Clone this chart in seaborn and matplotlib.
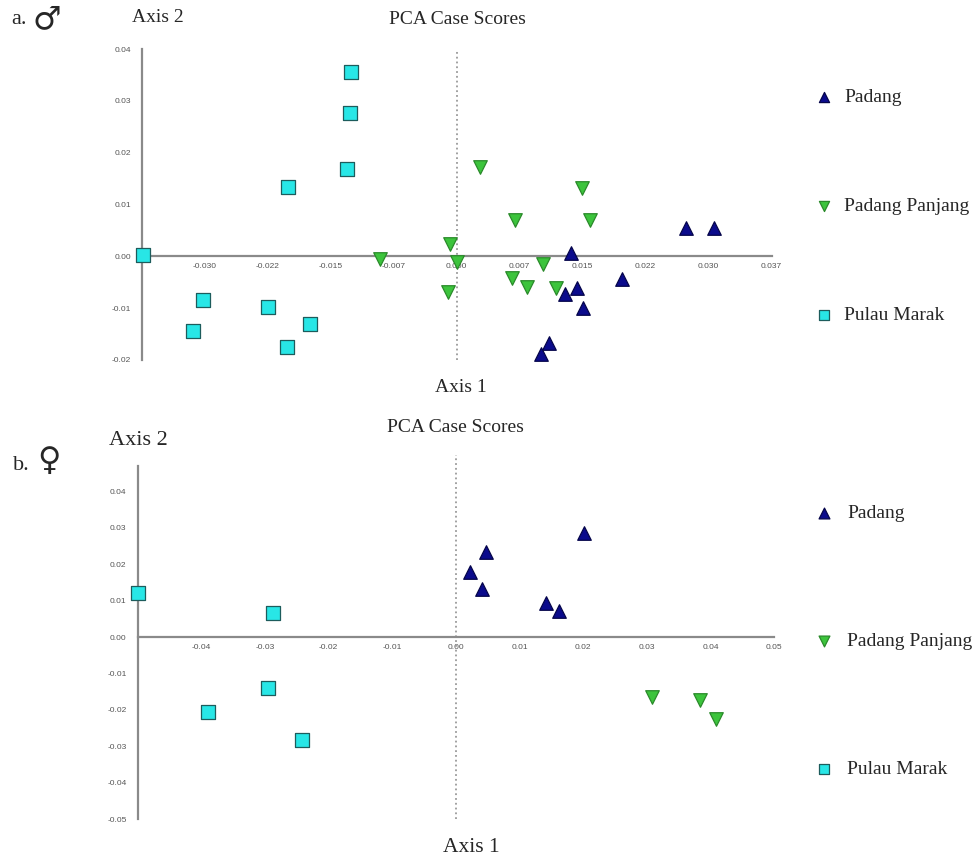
import numpy as np
import pandas as pd
import matplotlib
matplotlib.use("Agg")
import matplotlib.pyplot as plt
import seaborn as sns

# --- data ---
groups = ["Padang", "Padang Panjang", "Pulau Marak"]

# a. male
male_padang_x = [0.0134, 0.0269, 0.0302, 0.0194, 0.0141, 0.0127, 0.0148, 0.0108, 0.0099]
male_padang_y = [0.0006, 0.0054, 0.0055, -0.0043, -0.0061, -0.0072, -0.0100, -0.0167, -0.0189]
male_panjang_x = [0.0027, 0.0147, 0.0068, 0.0157, 0.0101, 0.0065, 0.0083, 0.0117, -0.0090, -0.0008, 0.0000, -0.0010]
male_panjang_y = [0.0172, 0.0131, 0.0070, 0.0070, -0.0015, -0.0041, -0.0060, -0.0062, -0.0006, 0.0023, -0.0010, -0.0068]
male_marak_x = [-0.0124, -0.0126, -0.0129, -0.0198, -0.0369, -0.0298, -0.0310, -0.0222, -0.0173, -0.0200]
male_marak_y = [0.0355, 0.0277, 0.0169, 0.0133, 0.0003, -0.0085, -0.0145, -0.0098, -0.0130, -0.0174]

# b. female
female_padang_x = [0.0201, 0.0047, 0.0022, 0.0041, 0.0142, 0.0162]
female_padang_y = [0.0285, 0.0234, 0.0179, 0.0131, 0.0093, 0.0071]
female_panjang_x = [0.0308, 0.0383, 0.0408]
female_panjang_y = [-0.0164, -0.0173, -0.0225]
female_marak_x = [-0.0500, -0.0287, -0.0295, -0.0389, -0.0242]
female_marak_y = [0.0122, 0.0065, -0.0139, -0.0207, -0.0283]

male_xticks = [-0.0296, -0.0222, -0.0148, -0.0074, 0.0, 0.0074, 0.0148, 0.0222, 0.0296, 0.037]
male_xticklabels = ["-0.030", "-0.022", "-0.015", "-0.007", "0.000", "0.007", "0.015", "0.022", "0.030", "0.037"]
male_yticks = [-0.02, -0.01, 0.0, 0.01, 0.02, 0.03, 0.04]
male_yticklabels = ["-0.02", "-0.01", "0.00", "0.01", "0.02", "0.03", "0.04"]

female_xticks = [-0.04, -0.03, -0.02, -0.01, 0.0, 0.01, 0.02, 0.03, 0.04, 0.05]
female_xticklabels = ["-0.04", "-0.03", "-0.02", "-0.01", "0.00", "0.01", "0.02", "0.03", "0.04", "0.05"]
female_yticks = [-0.05, -0.04, -0.03, -0.02, -0.01, 0.0, 0.01, 0.02, 0.03, 0.04]
female_yticklabels = ["-0.05", "-0.04", "-0.03", "-0.02", "-0.01", "0.00", "0.01", "0.02", "0.03", "0.04"]

fills = {"Padang": "#0b0b8c", "Padang Panjang": "#3cc43c", "Pulau Marak": "#28e6e6"}
edges = {"Padang": "#05054a", "Padang Panjang": "#2a8a2a", "Pulau Marak": "#1d5c5c"}
markers = {"Padang": "^", "Padang Panjang": "v", "Pulau Marak": "s"}


def make_frame(pad_x, pad_y, pan_x, pan_y, mar_x, mar_y):
    parts = []
    for name, xs, ys in zip(groups, [pad_x, pan_x, mar_x], [pad_y, pan_y, mar_y]):
        parts.append(pd.DataFrame({"x": xs, "y": ys, "site": name}))
    return pd.concat(parts, ignore_index=True)


male_df = make_frame(male_padang_x, male_padang_y, male_panjang_x, male_panjang_y,
                     male_marak_x, male_marak_y)
female_df = make_frame(female_padang_x, female_padang_y, female_panjang_x, female_panjang_y,
                       female_marak_x, female_marak_y)

sns.set_style("white")
plt.rcParams["font.family"] = ["Liberation Serif", "DejaVu Sans"]

fig = plt.figure(figsize=(9.76, 8.59), dpi=100)
ax_top = fig.add_axes([142 / 976, 1 - 360 / 859, 629.5 / 976, 311 / 859])
ax_bot = fig.add_axes([137.7 / 976, 1 - 819 / 859, 636.6 / 976, 364 / 859])

spine_col = "#8a8a8a"


def draw_panel(ax, df, xlim, ylim, xticks, xlabels, yticks, ylabels, ybounds, vline_span):
    for name in groups:
        sub = df[df["site"] == name]
        sns.scatterplot(data=sub, x="x", y="y", ax=ax, marker=markers[name],
                        color=fills[name], edgecolor=edges[name], linewidth=0.9,
                        s=95, label=name, clip_on=False, zorder=4, legend=True)
    ax.set_xlim(*xlim)
    ax.set_ylim(*ylim)
    ax.axvline(0, ymin=(vline_span[0] - ylim[0]) / (ylim[1] - ylim[0]),
               ymax=(vline_span[1] - ylim[0]) / (ylim[1] - ylim[0]),
               color="#9a9a9a", linestyle=":", linewidth=1.3, zorder=1)
    for side in ["top", "right"]:
        ax.spines[side].set_visible(False)
    ax.spines["bottom"].set_position(("data", 0))
    for side in ["bottom", "left"]:
        ax.spines[side].set_color(spine_col)
        ax.spines[side].set_linewidth(1.6)
    ax.spines["left"].set_bounds(*ybounds)
    ax.set_xticks(xticks)
    ax.set_xticklabels(xlabels)
    ax.set_yticks(yticks)
    ax.set_yticklabels(ylabels)
    ax.tick_params(axis="both", direction="in", length=6, width=1.3, color=spine_col,
                   labelsize=6, labelcolor="#555555")
    ax.tick_params(axis="x", pad=5)
    ax.tick_params(axis="y", pad=8)
    for lab in ax.get_xticklabels() + ax.get_yticklabels():
        lab.set_family("Liberation Sans")
    ax.set_xlabel("")
    ax.set_ylabel("")
    ax.grid(False)
    ax.patch.set_alpha(0)


draw_panel(ax_top, male_df, (-0.037, 0.037), (-0.02, 0.04), male_xticks, male_xticklabels,
           male_yticks, male_yticklabels, (-0.02, 0.04), (-0.02, 0.04))
draw_panel(ax_bot, female_df, (-0.05, 0.05), (-0.05, 0.05), female_xticks, female_xticklabels,
           female_yticks, female_yticklabels, (-0.05, 0.047), (-0.05, 0.05))

# legends on the right
ax_top.legend(loc="upper left", bbox_to_anchor=(814 / 976, 1 - 88 / 859),
              bbox_transform=fig.transFigure, frameon=False, fontsize=14,
              labelspacing=4.72, handlelength=1.0, handletextpad=0.55,
              borderpad=0, borderaxespad=0, markerscale=0.75)
ax_bot.legend(loc="upper left", bbox_to_anchor=(814 / 976, 1 - 504 / 859),
              bbox_transform=fig.transFigure, frameon=False, fontsize=14,
              labelspacing=5.7, handlelength=1.0, handletextpad=0.7,
              borderpad=0, borderaxespad=0, markerscale=0.8)

# titles and axis names
def ftext(x, y, s, size, **kw):
    fig.text(x / 976, 1 - y / 859, s, fontsize=size, ha="center", va="center", **kw)

ftext(457, 20, "PCA Case Scores", 14)
ftext(158, 18, "Axis 2", 14)
ftext(461, 388, "Axis 1", 14)
ftext(19, 20, "a.", 16)
ftext(47, 20, "\u2642", 23, family=["DejaVu Sans"])

ftext(455, 427, "PCA Case Scores", 14)
ftext(138, 440, "Axis 2", 16)
ftext(471, 848, "Axis 1", 15.5)
ftext(21, 465, "b.", 16)
ftext(49, 461, "\u2640", 23, family=["DejaVu Sans"])

fig.savefig("out.png", dpi=100, facecolor="white")
